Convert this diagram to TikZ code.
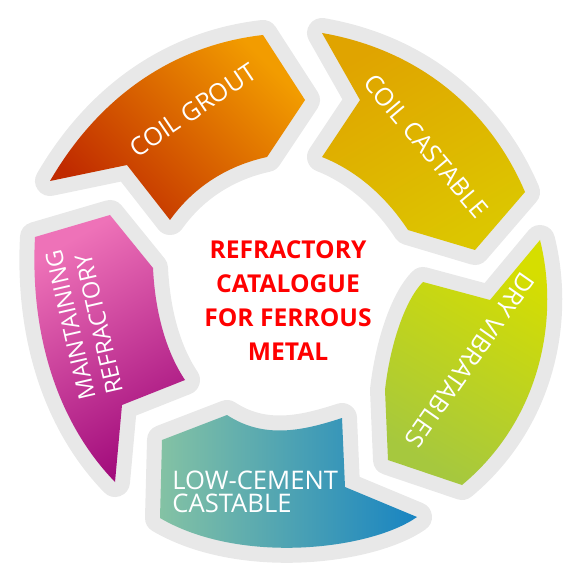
\documentclass[tikz,border=0pt]{standalone}
\usepackage{fontspec}
\setmainfont{Open Sans}
\definecolor{rim}{HTML}{E8E8E8}
\definecolor{groutA}{HTML}{C02A00}
\definecolor{groutB}{HTML}{F29C00}
\definecolor{castA}{HTML}{E0A400}
\definecolor{castB}{HTML}{DCC600}
\definecolor{dryA}{HTML}{D6DE00}
\definecolor{dryB}{HTML}{A6C83E}
\definecolor{lowA}{HTML}{84C2A4}
\definecolor{lowB}{HTML}{1884C2}
\definecolor{mainA}{HTML}{EE72B8}
\definecolor{mainB}{HTML}{A20C7C}
\begin{document}
\begin{tikzpicture}[x=0.5pt,y=-0.5pt,
  seg/.style={preaction={draw=rim,line width=15pt,line join=round}},
  lbl/.style={text=white,inner sep=0pt,font=\fontsize{12.5}{14}\selectfont}]
  \useasboundingbox (0,0) rectangle (575,576);
  % segments, clockwise from the top left
  \shade[seg,top color=groutB,bottom color=groutA,shading angle=-45]
    (50,181) .. controls (100,95) and (175,45) .. (263,35) -- (305,100) -- (267,157)
    .. controls (230,165) and (195,185) .. (170,220) -- (127,165) -- cycle;
  \shade[seg,top color=castA,bottom color=castB,shading angle=30]
    (322,33) .. controls (420,50) and (490,110) .. (525,192) -- (475,250) -- (408,230)
    .. controls (385,195) and (355,170) .. (322,157) -- (360,100) -- cycle;
  \shade[seg,top color=dryA,bottom color=dryB,shading angle=-30]
    (540,240) .. controls (560,320) and (540,420) .. (462,485) -- (388,460) -- (385,390)
    .. controls (390,345) and (405,300) .. (423,282) -- (490,300) -- cycle;
  \shade[seg,left color=lowA,right color=lowB]
    (162,440) -- (227,415) .. controls (265,440) and (305,430) .. (342,418) -- (345,487)
    -- (417,517) .. controls (370,550) and (240,565) .. (160,518) -- cycle;
  \shade[seg,top color=mainA,bottom color=mainB,shading angle=30]
    (35,237) -- (110,215) -- (153,268) .. controls (155,310) and (165,350) .. (185,380)
    -- (122,405) -- (115,482) .. controls (55,420) and (30,330) .. cycle;
  % labels
  \node[lbl,rotate=34] (grout) at (193,110) {COIL GROUT};
  \node[lbl,rotate=-50] (cast) at (426,146) {COIL CASTABLE};
  \node[lbl,rotate=-125] (dry) at (470,360) {DRY VIBRATABLES};
  \node[lbl,anchor=north west,align=left,font=\fontsize{12.8}{11.5}\selectfont]
    (low) at (172,471) {LOW-CEMENT\\CASTABLE};
  \node[lbl,rotate=103,align=left,font=\fontsize{11.8}{14}\selectfont]
    (maint) at (84,322) {MAINTAINING\\REFRACTORY};
  % title in the middle
  \node[text=red,align=center,font=\bfseries\fontsize{12.3}{17}\selectfont]
    (title) at (288,301) {REFRACTORY\\CATALOGUE\\FOR FERROUS\\METAL};
\end{tikzpicture}
\end{document}
